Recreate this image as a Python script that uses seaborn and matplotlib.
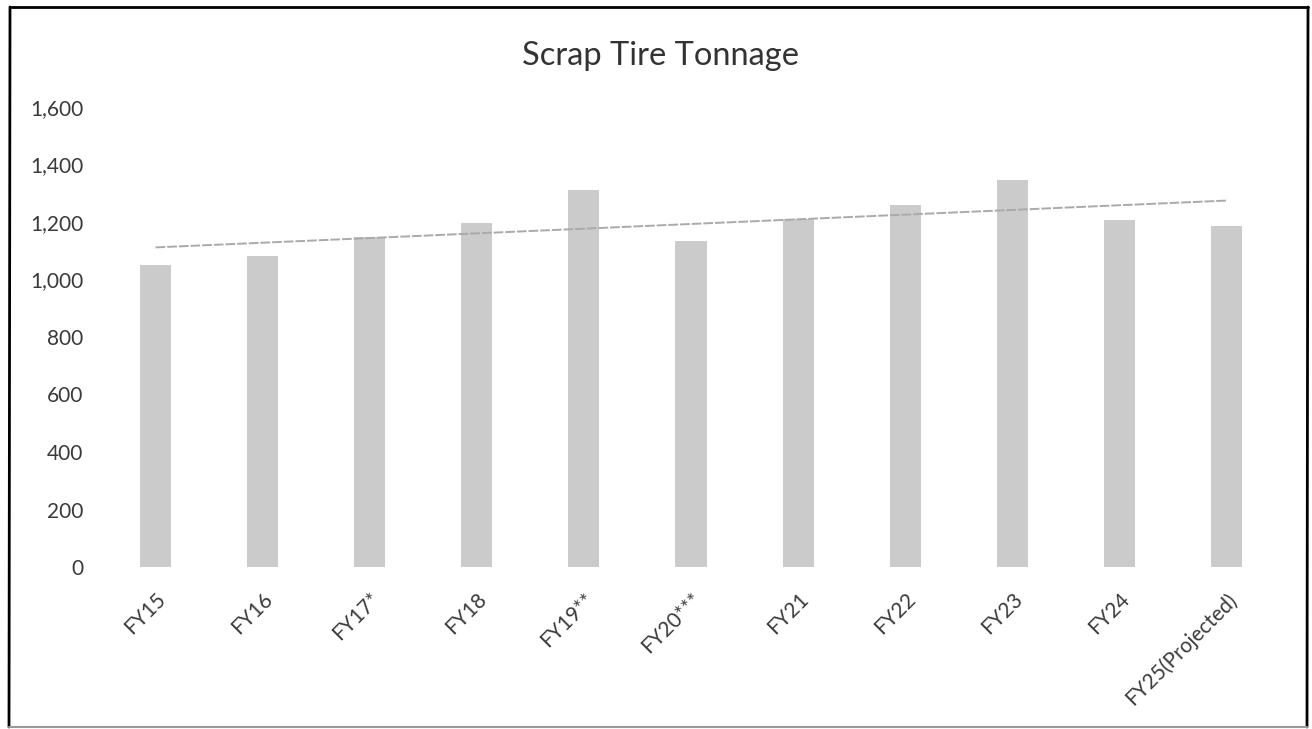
import numpy as np
import pandas as pd
import seaborn as sns
import matplotlib
matplotlib.use("Agg")
import matplotlib.pyplot as plt
from matplotlib.lines import Line2D
from matplotlib.ticker import FuncFormatter

# Annual scrap tire tonnage by fiscal year
categories = ["FY15", "FY16", "FY17*", "FY18", "FY19**", "FY20***",
              "FY21", "FY22", "FY23", "FY24", "FY25(Projected)"]
tons = [1050, 1082, 1148, 1195, 1310, 1133, 1210, 1260, 1345, 1206, 1185]
y_ticks = [0, 200, 400, 600, 800, 1000, 1200, 1400, 1600]

sns.set_theme(style="white")
plt.rcParams["font.family"] = ["Lato", "DejaVu Sans"]

W, H = 1312, 729
fig = plt.figure(figsize=(W / 100, H / 100), dpi=100)
fig.patch.set_facecolor("white")

# plot area in pixel terms
left_px, right_px, top_px, bottom_px = 102, 1280, 107, 567
ax = fig.add_axes([left_px / W, 1 - bottom_px / H,
                   (right_px - left_px) / W, (bottom_px - top_px) / H])

df = pd.DataFrame({"year": categories, "tons": tons})
sns.barplot(data=df, x="year", y="tons", color="#cbcbcb", saturation=1,
            width=0.29, edgecolor="none", ax=ax)

# linear trendline across the fiscal years
sns.regplot(x=np.arange(len(tons)), y=np.array(tons, dtype=float),
            scatter=False, ci=None, truncate=True, ax=ax,
            line_kws=dict(color="#aaaaaa", lw=1.4, ls=(0, (5, 1))))

ax.set_xlim(-0.5, len(categories) - 0.5)
ax.set_ylim(0, 1600)
ax.set_yticks(y_ticks)
ax.yaxis.set_major_formatter(FuncFormatter(lambda v, p: f"{v:,.0f}"))
ax.set_xlabel("")
ax.set_ylabel("")
for s in ax.spines.values():
    s.set_visible(False)
ax.grid(False)

ax.tick_params(axis="y", length=0, pad=13.5, labelsize=15, labelcolor="#3a3a3a")
ax.tick_params(axis="x", length=0, pad=16, labelsize=15, labelcolor="#3a3a3a")
ax.set_xticks(range(len(categories)))
ax.set_xticklabels(categories, rotation=45, ha="right", va="top",
                   rotation_mode="anchor")

fig.text(660 / W, 1 - 65 / H, "Scrap Tire Tonnage", ha="center",
         va="baseline", fontsize=23.5, color="#333333")

# page frame around the chart
def frame_line(x0, y0, x1, y1, color="black", lw=2.0):
    fig.add_artist(Line2D([x0 / W, x1 / W], [1 - y0 / H, 1 - y1 / H],
                          transform=fig.transFigure, color=color, lw=lw))

frame_line(10, 7, 1308, 7)
frame_line(10, 7, 9, 727)
frame_line(1308, 7, 1307, 727)
frame_line(9, 727, 1307, 727, color="#9a9a9a", lw=1.5)

fig.savefig("out.png", dpi=100, facecolor="white")
